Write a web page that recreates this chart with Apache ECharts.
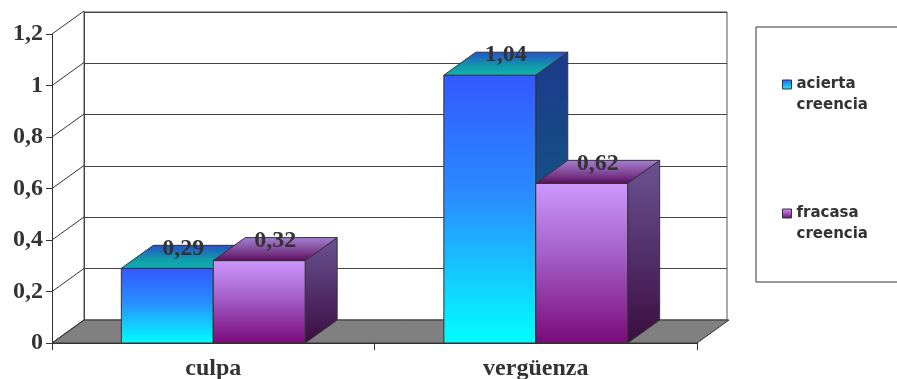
<!DOCTYPE html>
<html>
<head>
<meta charset="utf-8">
<script src="https://cdn.jsdelivr.net/npm/echarts@6/dist/echarts.min.js"></script>
<style>
  html, body { margin: 0; padding: 0; background: #fff; }
  #chart { width: 897px; height: 379px; }
</style>
</head>
<body>
<div id="chart"></div>
<script>
// Chart data
const categories = ['culpa', 'vergüenza'];
const seriesNames = ['acierta creencia', 'fracasa creencia'];
const aciertaValues = [0.29, 1.04];
const fracasaValues = [0.32, 0.62];
const yTicks = { min: 0, max: 1.2, interval: 0.2 };

// 3D look: depth offset of the walls and the bar boxes
const DX = 32, DY = -23;
const BAR_RATIO = 0.285;
const SERIF = '"Liberation Serif", "Times New Roman", serif';
const INK = '#333';

const lg = (x, y, x2, y2, stops) => new echarts.graphic.LinearGradient(x, y, x2, y2,
  stops.map(([offset, color]) => ({ offset, color })));

const palettes = [
  { // acierta creencia: blue to cyan
    front: () => lg(0, 0, 0, 1, [[0, '#3358ff'], [0.45, '#2a8cff'], [1, '#00ffff']]),
    top: () => lg(0, 1, 0, 0, [[0, '#0db4b4'], [0.4, '#129aaa'], [1, '#2a4ec8']]),
    side: () => lg(0, 0, 0, 1, [[0, '#1c3a8c'], [1, '#0d6a80']]),
    legend: lg(0, 0, 0, 1, [[0, '#3358ff'], [1, '#00ffff']])
  },
  { // fracasa creencia: lilac to purple
    front: () => lg(0, 0, 0, 1, [[0, '#cc99ff'], [0.45, '#a45ec8'], [1, '#7a0a7a']]),
    top: () => lg(0, 1, 0, 0, [[0, '#5a0a5a'], [0.35, '#7a3a8a'], [1, '#a482d4']]),
    side: () => lg(0, 0, 0, 1, [[0, '#6c5294'], [1, '#3a0e40']]),
    legend: lg(0, 0, 0, 1, [[0, '#cc99ff'], [1, '#7a0a7a']])
  }
];

const fmt = v => String(v).replace('.', ',');

function barRenderer(side) {
  const pal = palettes[side];
  return function (params, api) {
    const idx = api.value(0), v = api.value(1);
    const base = api.coord([idx, 0]);
    const top = api.coord([idx, v]);
    const band = api.size([1, 0])[0];
    const w = band * BAR_RATIO;
    const x0 = side === 0 ? base[0] - w : base[0];
    const x1 = x0 + w;
    const yb = base[1], yt = top[1];
    const line = { stroke: INK, lineWidth: 1 };
    return {
      type: 'group',
      children: [
        { type: 'polygon', shape: { points: [[x1, yt], [x1 + DX, yt + DY], [x1 + DX, yb + DY], [x1, yb]] },
          style: Object.assign({ fill: pal.side() }, line) },
        { type: 'rect', shape: { x: x0, y: yt, width: w, height: yb - yt },
          style: Object.assign({ fill: pal.front() }, line) },
        { type: 'polygon', shape: { points: [[x0, yt], [x1, yt], [x1 + DX, yt + DY], [x0 + DX, yt + DY]] },
          style: Object.assign({ fill: pal.top() }, line) },
        { type: 'text', z2: 50,
          style: { text: fmt(v), x: (x0 + x1) / 2 + DX / 2, y: yt + DY + 3, align: 'center', verticalAlign: 'middle',
                   font: 'bold 24px ' + SERIF, fill: INK } }
      ]
    };
  };
}

const tickValues = [];
for (let t = 0; t <= 6; t++) tickValues.push([0, +(t * yTicks.interval).toFixed(1)]);

const chart = echarts.init(document.getElementById('chart'), null, { renderer: 'canvas' });
chart.setOption({
  animation: false,
  backgroundColor: '#fff',
  grid: [
    { left: 52, right: 200, top: 34, bottom: 36, outerBoundsMode: 'none', containLabel: false },
    { left: 84, right: 170, top: 12, bottom: 59, outerBoundsMode: 'none', containLabel: false,
      show: true, backgroundColor: '#fff', borderColor: '#555', borderWidth: 1, z: -1 }
  ],
  xAxis: [
    { type: 'category', gridIndex: 0, data: categories, boundaryGap: true,
      axisLine: { lineStyle: { color: INK } },
      axisTick: { show: true, length: 7, lineStyle: { color: INK } },
      axisLabel: { margin: 14, color: INK, fontFamily: SERIF, fontWeight: 'bold', fontSize: 24 } },
    { type: 'value', gridIndex: 1, show: false, min: 0, max: 1 }
  ],
  yAxis: [
    { type: 'value', gridIndex: 0, min: yTicks.min, max: yTicks.max, interval: yTicks.interval,
      axisLine: { show: true, lineStyle: { color: INK } },
      axisTick: { show: true, length: 6, lineStyle: { color: INK } },
      splitLine: { show: false },
      axisLabel: { margin: 9, color: INK, fontFamily: SERIF, fontWeight: 'bold', fontSize: 24, formatter: fmt } },
    { type: 'value', gridIndex: 1, min: yTicks.min, max: yTicks.max, interval: yTicks.interval,
      axisLine: { show: true, lineStyle: { color: '#444' } },
      axisTick: { show: false }, axisLabel: { show: false },
      splitLine: { show: true, lineStyle: { color: '#444', width: 1 } } }
  ],
  legend: {
    orient: 'vertical', left: 756, top: 27,
    padding: [26, 40, 37, 26],
    borderColor: INK, borderWidth: 1, borderRadius: 0,
    itemWidth: 9, itemHeight: 9, itemGap: 66, icon: 'rect',
    // blank first line keeps the marker level with the first line of the name
    formatter: name => ' \n' + name.replace(' ', '\n'),
    textStyle: { fontFamily: '"DejaVu Sans", Verdana, sans-serif', fontWeight: 'bold', fontSize: 15,
                 color: INK, lineHeight: 21 },
    data: seriesNames.map((n, i) => ({ name: n, itemStyle: { color: palettes[i].legend, borderColor: INK, borderWidth: 1 } }))
  },
  series: [
    { // floor slab
      type: 'custom', xAxisIndex: 0, yAxisIndex: 0, clip: false, silent: true, z: 1,
      data: [[0, 0]],
      renderItem: (params, api) => {
        const cs = params.coordSys;
        const y0 = api.coord([0, 0])[1];
        const xa = cs.x, xb = cs.x + cs.width;
        return { type: 'polygon', shape: { points: [[xa, y0], [xa + DX, y0 + DY], [xb + DX, y0 + DY], [xb, y0]] },
                 style: { fill: '#808080', stroke: INK, lineWidth: 1 } };
      }
    },
    { // connectors from the front axis ticks to the back wall gridlines
      type: 'custom', xAxisIndex: 0, yAxisIndex: 0, clip: false, silent: true, z: 1,
      data: tickValues,
      renderItem: (params, api) => {
        const x = params.coordSys.x;
        const y = api.coord([0, api.value(1)])[1];
        return { type: 'line', shape: { x1: x, y1: y, x2: x + DX, y2: y + DY }, style: { stroke: INK, lineWidth: 1 } };
      }
    },
    { name: seriesNames[0], type: 'custom', xAxisIndex: 0, yAxisIndex: 0, clip: false, z: 3,
      itemStyle: { color: palettes[0].legend, borderColor: INK },
      data: aciertaValues.map((v, i) => [i, v]), renderItem: barRenderer(0) },
    { name: seriesNames[1], type: 'custom', xAxisIndex: 0, yAxisIndex: 0, clip: false, z: 4,
      itemStyle: { color: palettes[1].legend, borderColor: INK },
      data: fracasaValues.map((v, i) => [i, v]), renderItem: barRenderer(1) }
  ]
});
</script>
</body>
</html>
